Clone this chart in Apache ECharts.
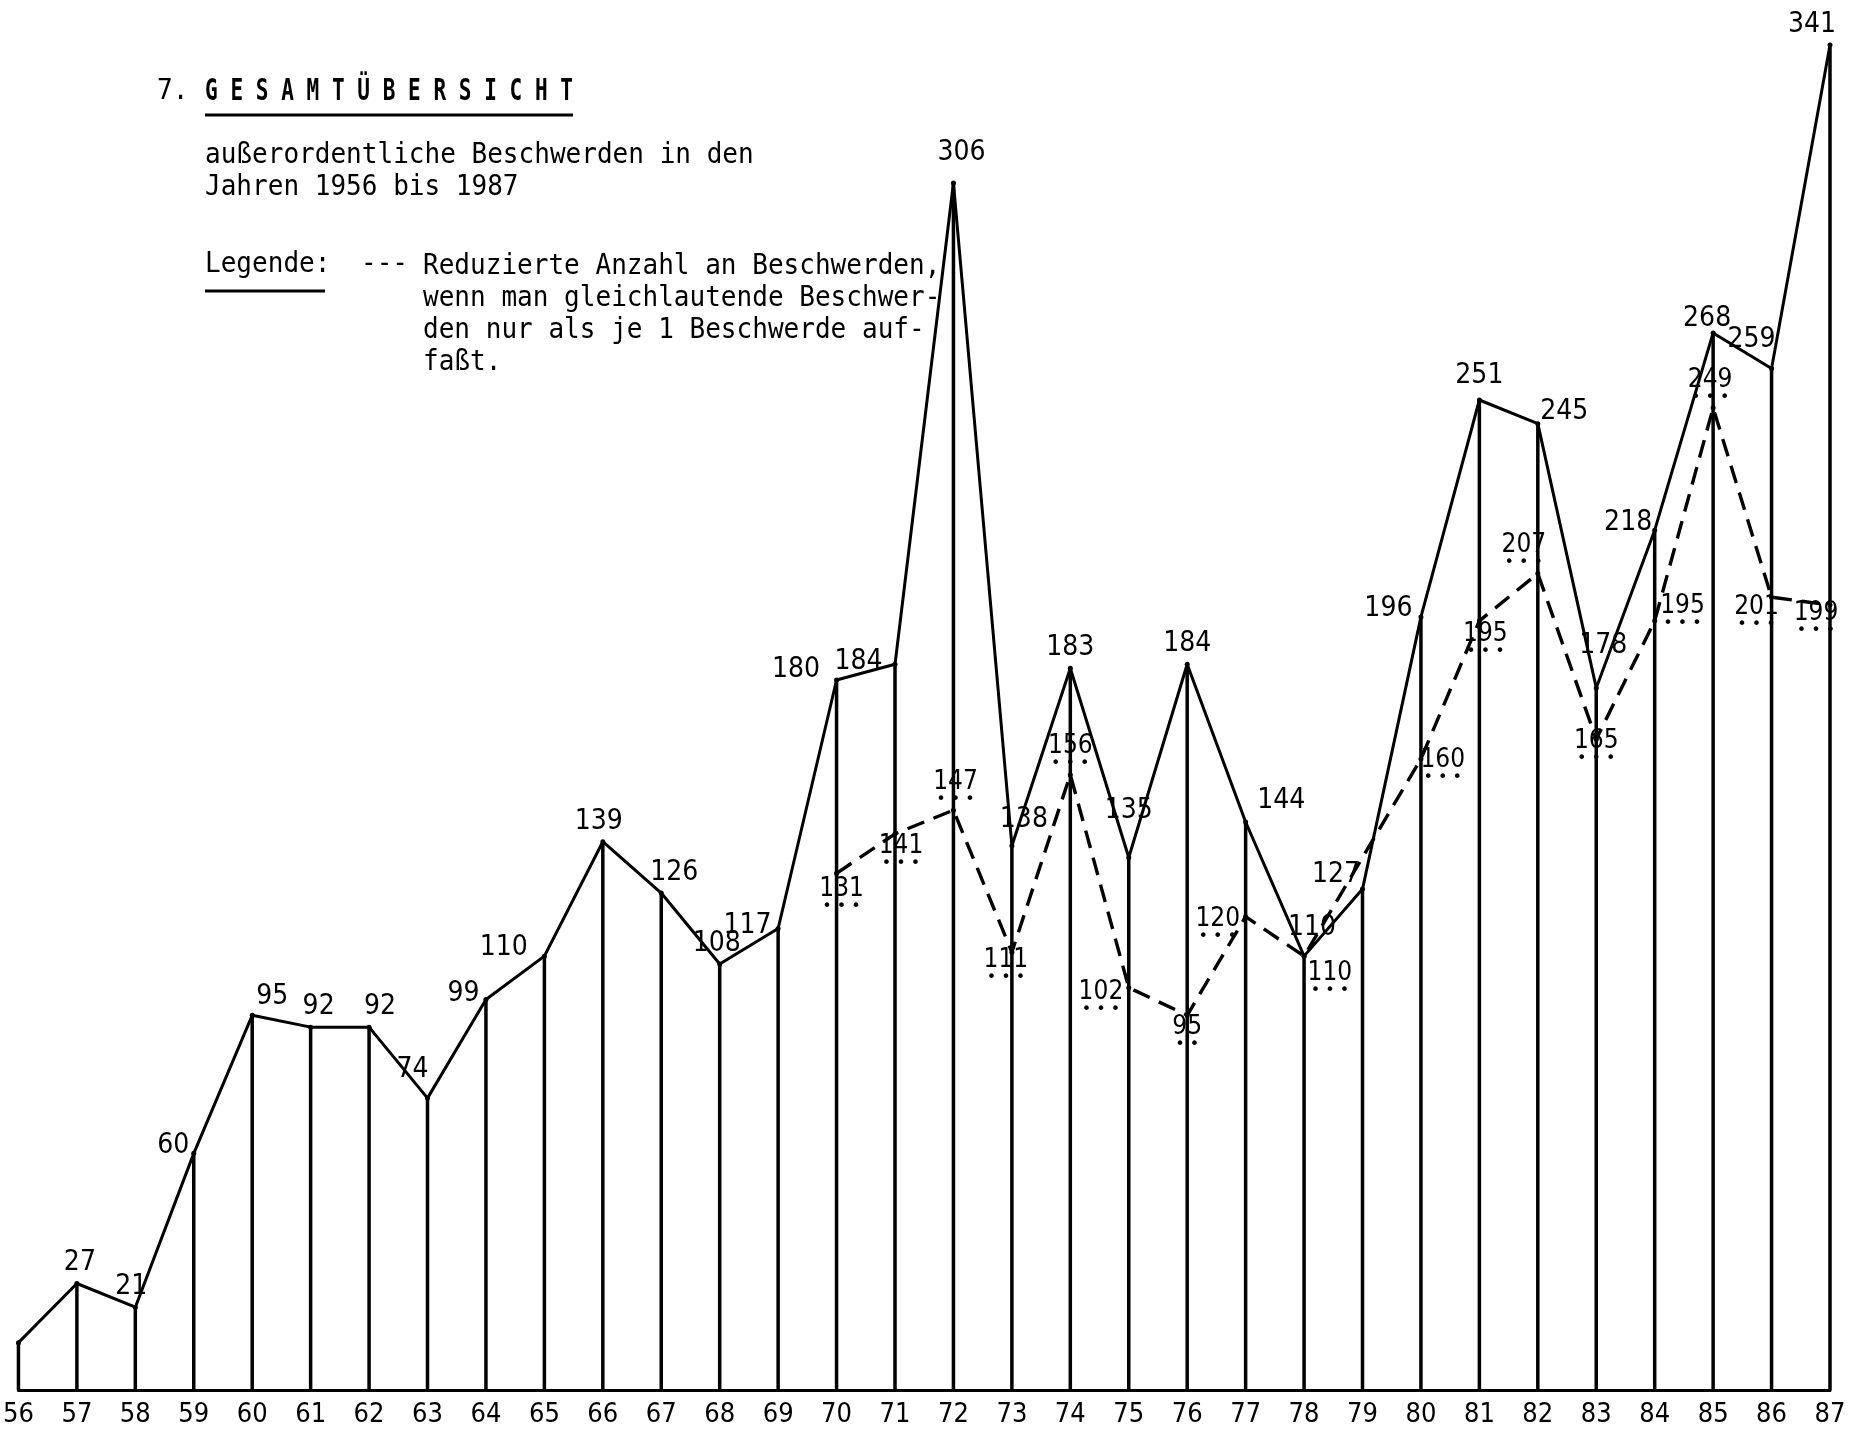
<!DOCTYPE html>
<html>
<head>
<meta charset="utf-8">
<script src="https://cdn.jsdelivr.net/npm/echarts@6.0.0/dist/echarts.min.js"></script>
<style>
html,body{margin:0;padding:0;background:#fff;}
#chart{width:1854px;height:1433px;}
</style>
</head>
<body>
<div id="chart"></div>
<script>
// ---- data ----
const years = ['56','57','58','59','60','61','62','63','64','65','66','67','68','69','70','71',
               '72','73','74','75','76','77','78','79','80','81','82','83','84','85','86','87'];
// außerordentliche Beschwerden (1956 value is unlabelled, estimated)
const complaints = [12,27,21,60,95,92,92,74,99,110,139,126,108,117,180,184,
                    306,138,183,135,184,144,110,127,196,251,245,178,218,268,259,341];
// reduzierte Anzahl (gleichlautende Beschwerden als je 1 Beschwerde)
const reduced = [null,null,null,null,null,null,null,null,null,null,null,null,null,null,131,141,
                 147,111,156,102,95,120,110,null,160,195,207,165,195,249,201,199];
const yMax = 341;

// ---- label placement (style only) ----
const solidLayout = {
  '57':['top',3,0], '58':['top',-4,0], '59':['left',2,-8], '60':['top',20,2], '61':['top',8,0],
  '62':['top',11,0], '63':['top',-15,-8], '64':['left',0,-6], '65':['left',-10,-8], '66':['top',-4,0],
  '67':['top',13,0], '68':['top',-3,0], '69':['left',0,-3], '70':['left',-10,-10], '71':['left',-6,-3],
  '72':['top',8,-10], '73':['top',12,-5], '74':['top',0,0], '75':['top',0,-26], '76':['top',0,0],
  '77':['right',5,-21], '78':['top',8,-8], '79':['left',4,-14], '80':['left',-2,-8], '81':['top',0,-4],
  '82':['right',-4,-12], '83':['top',7,-22], '84':['left',4,-7], '85':['top',-6,6], '86':['top',-20,-8],
  '87':['top',-18,0]
};
const dashLayout = {
  '70':['bottom',5,-2], '71':['bottom',6,-6], '72':['top',2,0], '73':['bottom',-6,-10], '74':['top',0,0],
  '75':['left',0,10], '76':['bottom',0,-6], '77':['left',0,8], '78':['right',-2,22], '80':['right',-6,6],
  '81':['bottom',6,-5], '82':['top',-14,0], '83':['bottom',0,-16], '84':['right',0,-10], '85':['top',-3,0],
  '86':['bottom',-15,-8], '87':['bottom',-14,-10]
};

const numFont = "'DejaVu Sans Condensed', 'DejaVu Sans', sans-serif";
const typeFont = "'DejaVu Sans Mono', 'Liberation Mono', monospace";

const solidData = complaints.map((v, i) => {
  const l = solidLayout[years[i]];
  return { value: v, label: l ? { show: true, position: l[0], offset: [l[1], l[2]] } : { show: false } };
});
const dashData = reduced.map((v, i) => {
  if (v == null) return null;
  const l = dashLayout[years[i]] || ['top', 0, 0];
  return { value: v, label: { show: true, position: l[0], offset: [l[1], l[2]] } };
});

const chart = echarts.init(document.getElementById('chart'), null, { renderer: 'canvas' });

chart.setOption({
  animation: false,
  backgroundColor: '#ffffff',
  grid: { left: 12, right: 24, top: 45, bottom: 43 },
  xAxis: {
    type: 'category',
    data: years,
    boundaryGap: false,
    axisLine: { show: true, lineStyle: { color: '#000', width: 3 } },
    axisTick: { show: false },
    axisLabel: { interval: 0, color: '#000', fontSize: 27, fontFamily: numFont, margin: 11 },
    splitLine: { show: false }
  },
  yAxis: { type: 'value', min: 0, max: yMax, show: false, splitLine: { show: false } },
  series: [
    {
      name: 'Stäbe',
      type: 'bar',
      data: complaints,
      barWidth: 3.5,
      clip: false,
      itemStyle: { color: '#000' },
      silent: true,
      z: 1
    },
    {
      name: 'außerordentliche Beschwerden',
      type: 'line',
      data: solidData,
      symbol: 'circle',
      symbolSize: 5,
      itemStyle: { color: '#000' },
      lineStyle: { color: '#000', width: 3 },
      label: { show: true, color: '#000', fontSize: 28, fontFamily: numFont, distance: 4 },
      z: 3
    },
    {
      name: 'Reduzierte Anzahl an Beschwerden',
      type: 'line',
      data: dashData,
      connectNulls: true,
      symbol: 'circle',
      symbolSize: 5,
      itemStyle: { color: '#000' },
      lineStyle: { color: '#000', width: 3.4, type: [18, 10] },
      label: {
        show: true,
        distance: 3,
        formatter: p => '{n|' + p.value + '}\n{d|' + Array(String(p.value).length).fill('•').join(' ') + '}',
        rich: {
          n: { color: '#000', fontSize: 26, fontFamily: numFont, lineHeight: 25, align: 'center' },
          d: { color: '#000', fontSize: 16, fontFamily: "'DejaVu Sans', sans-serif", lineHeight: 10, align: 'center' }
        }
      },
      z: 4
    }
  ],
  graphic: [
    { type: 'text', x: 157, y: 92, scaleX: 0.93, style: { text: '7.', font: '28px ' + typeFont, fill: '#000', verticalAlign: 'middle' } },
    { type: 'text', x: 205, y: 92, scaleX: 0.68, style: { text: 'G E S A M T Ü B E R S I C H T', font: 'bold 31px ' + typeFont, fill: '#000', verticalAlign: 'middle' } },
    { type: 'line', shape: { x1: 205, y1: 115, x2: 573, y2: 115 }, style: { stroke: '#000', lineWidth: 3 } },
    { type: 'text', x: 205, y: 140, scaleX: 0.93, style: { text: 'außerordentliche Beschwerden in den\nJahren 1956 bis 1987', font: '28px ' + typeFont, lineHeight: 32, fill: '#000', verticalAlign: 'top' } },
    { type: 'text', x: 205, y: 251, scaleX: 0.93, style: { text: 'Legende:', font: '28px ' + typeFont, fill: '#000', verticalAlign: 'top' } },
    { type: 'line', shape: { x1: 205, y1: 291, x2: 325, y2: 291 }, style: { stroke: '#000', lineWidth: 3 } },
    { type: 'text', x: 361, y: 251, scaleX: 0.93, style: { text: '---', font: '28px ' + typeFont, fill: '#000', verticalAlign: 'top' } },
    { type: 'text', x: 423, y: 251, scaleX: 0.93, style: { text: 'Reduzierte Anzahl an Beschwerden,\nwenn man gleichlautende Beschwer-\nden nur als je 1 Beschwerde auf-\nfaßt.', font: '28px ' + typeFont, lineHeight: 32, fill: '#000', verticalAlign: 'top' } }
  ]
});
</script>
</body>
</html>
